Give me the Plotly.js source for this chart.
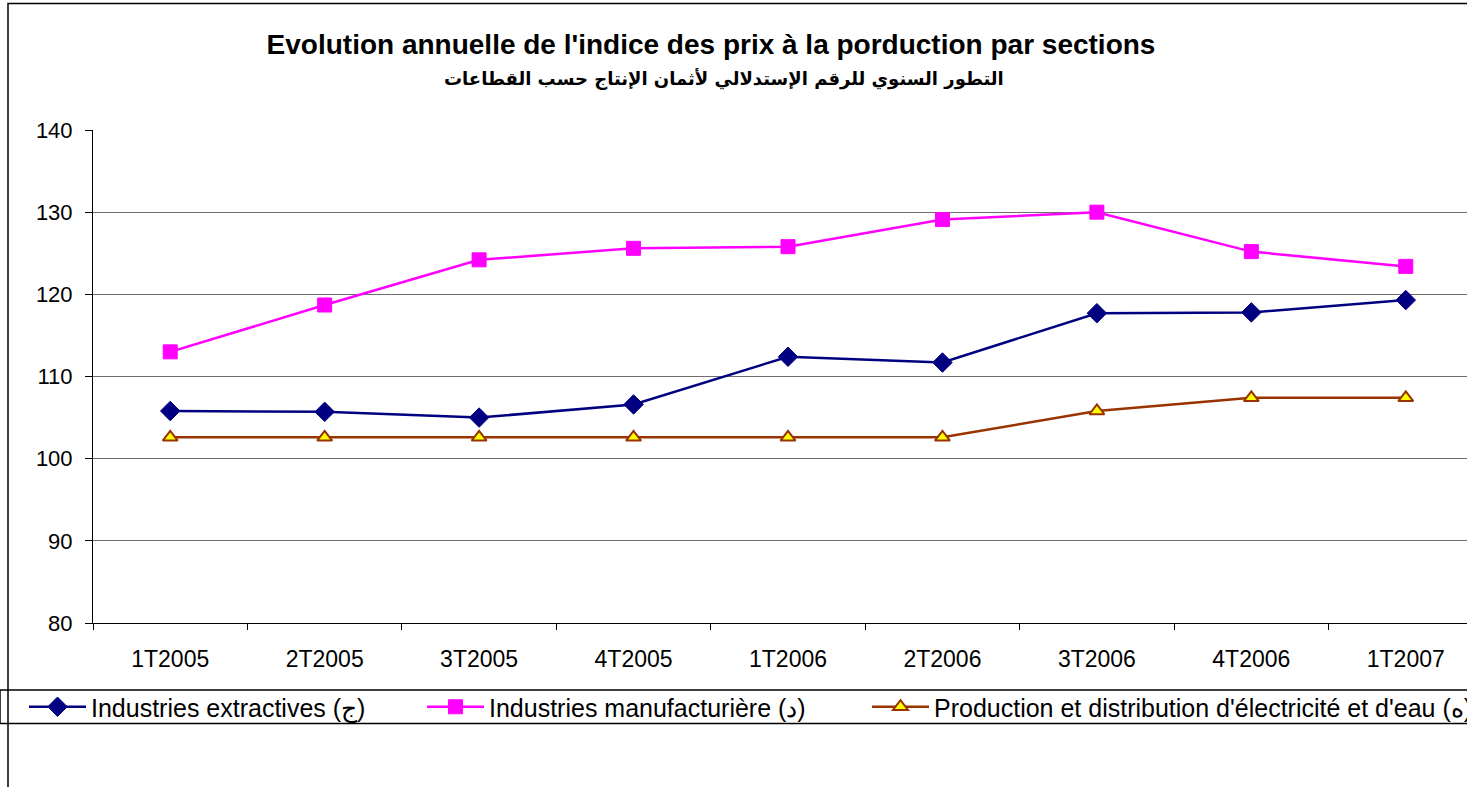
<!DOCTYPE html>
<html>
<head>
<meta charset="utf-8">
<script src="https://cdn.plot.ly/plotly-3.0.1.min.js"></script>
<style>
html,body{margin:0;padding:0;overflow:hidden;background:#fff;width:1467px;height:787px;}
#chart{width:1520px;height:787px;}
</style>
</head>
<body>
<div id="chart"></div>
<script>
const categories = ["1T2005","2T2005","3T2005","4T2005","1T2006","2T2006","3T2006","4T2006","1T2007"];
const extractives = [105.8, 105.7, 105.0, 106.6, 112.4, 111.7, 117.7, 117.8, 119.3];
const manufacturiere = [113.0, 118.7, 124.2, 125.6, 125.8, 129.1, 130.0, 125.2, 123.4];
const electricite = [102.6, 102.6, 102.6, 102.6, 102.6, 102.6, 105.8, 107.4, 107.4];
const seriesNames = ["Industries extractives (ج)", "Industries manufacturière (د)", "Production et distribution d'électricité et d'eau (ه)"];
const yTicks = [80, 90, 100, 110, 120, 130, 140];

const W = 1520, H = 787;
const L = 93, R = 1483, T = 130, B = 623;
const px = x => (x - L) / (R - L);
const py = y => (B - y) / (B - T);

const FONT = "Arial, 'Liberation Sans', sans-serif";

const traces = [
  {x: categories, y: extractives, name: seriesNames[0], type: "scatter", mode: "lines+markers", legend: "legend",
   line: {color: "#000080", width: 2.5},
   marker: {symbol: "diamond", size: 15, color: "#000080", line: {color: "#000080", width: 1}}},
  {x: categories, y: manufacturiere, name: seriesNames[1], type: "scatter", mode: "lines+markers", legend: "legend2",
   line: {color: "#FF00FF", width: 2.5},
   marker: {symbol: "square", size: 14, color: "#FF00FF", line: {color: "#FF00FF", width: 1}}},
  {x: categories, y: electricite, name: seriesNames[2], type: "scatter", mode: "lines+markers", legend: "legend3",
   line: {color: "#993300", width: 2.5},
   marker: {symbol: "triangle-up", size: 13, color: "#FFFF00", line: {color: "#993300", width: 2}}}
];

function legendAt(xpix) {
  return {
    orientation: "h", x: px(xpix), xanchor: "left", y: py(707), yanchor: "middle",
    font: {family: FONT, size: 25, color: "#000"},
    bgcolor: "rgba(0,0,0,0)", itemwidth: 57, borderwidth: 0
  };
}

const layout = {
  width: W, height: H,
  margin: {l: L, r: W - R, t: T, b: H - B, pad: 0},
  paper_bgcolor: "#fff", plot_bgcolor: "#fff",
  font: {family: FONT, color: "#000", size: 22},
  showlegend: true,
  title: {
    text: "<b>Evolution annuelle de l'indice des prix à la porduction par sections</b>",
    font: {family: FONT, size: 28, color: "#000"},
    x: 711 / W, xanchor: "center", xref: "container",
    y: 1 - 44 / H, yanchor: "middle", yref: "container"
  },
  annotations: [{
    text: "<b>التطور السنوي للرقم الإستدلالي لأثمان الإنتاج حسب القطاعات</b>",
    xref: "paper", yref: "paper", x: px(724), y: py(79),
    xanchor: "center", yanchor: "middle", showarrow: false,
    font: {family: "'DejaVu Sans', 'Noto Sans', sans-serif", size: 18, color: "#000"}
  }],
  xaxis: {
    type: "category", range: [-0.5, 8.5], fixedrange: true,
    showgrid: false, showline: true, linecolor: "#000", linewidth: 1,
    ticks: "outside", tickson: "boundaries", ticklen: 6, tickcolor: "#000", tickwidth: 1,
    ticklabelstandoff: 15,
    tickfont: {family: FONT, size: 23, color: "#000"}, zeroline: false
  },
  yaxis: {
    range: [80, 140], fixedrange: true, tickvals: yTicks,
    showgrid: true, gridcolor: "#6e6e6e", gridwidth: 1,
    showline: true, linecolor: "#000", linewidth: 1,
    ticks: "outside", ticklen: 7, tickcolor: "#000", tickwidth: 1,
    ticklabelstandoff: 8,
    tickfont: {family: FONT, size: 22, color: "#000"}, zeroline: false
  },
  legend: legendAt(24),
  legend2: legendAt(422),
  legend3: legendAt(867),
  shapes: [
    {type: "rect", xref: "paper", yref: "paper", x0: px(8), x1: px(1560), y0: py(830), y1: py(3.5),
     line: {color: "#000", width: 1.5}, fillcolor: "rgba(0,0,0,0)", layer: "below"},
    {type: "rect", xref: "paper", yref: "paper", x0: px(0), x1: px(1560), y0: py(723.5), y1: py(690),
     line: {color: "#000", width: 1.5}, fillcolor: "rgba(0,0,0,0)", layer: "below"}
  ]
};

Plotly.newPlot("chart", traces, layout, {displayModeBar: false, staticPlot: true});
</script>
</body>
</html>
